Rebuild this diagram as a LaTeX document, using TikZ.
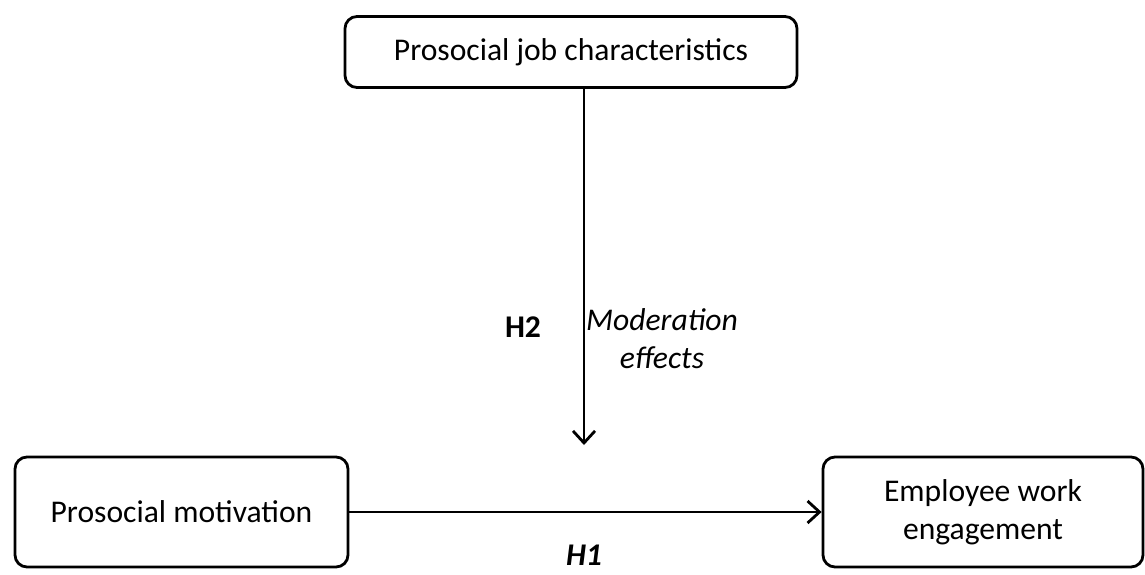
\documentclass[tikz,border=0pt]{standalone}
\usepackage{fontspec}
\setmainfont{Carlito}
\usetikzlibrary{arrows.meta, positioning}
\tikzstyle{every node}=[font=\fontsize{15.8}{19}\selectfont]

\begin{document}
\begin{tikzpicture}[
        x=0.5pt, y=-0.5pt,
        varbox/.style={draw, line width=1.4pt, rounded corners=6pt, align=center, inner sep=0pt},
        link/.style={line width=1.4pt, -{Straight Barb[length=6pt, width=11pt, line width=1.4pt]}},
        hyp/.style={font=\fontsize{15.8}{19}\selectfont\bfseries}
    ]
    \useasboundingbox (0,0) rectangle (1145,574);

    % --- Nodes ---
    \node[varbox, minimum width=226pt, minimum height=35.5pt] (jobchar) at (571,52) {Prosocial job characteristics};
    \node[varbox, minimum width=166.5pt, minimum height=55pt] (motiv) at (181.5,512) {Prosocial motivation};
    \node[varbox, minimum width=160pt, minimum height=55pt] (engage) at (983,512) {Employee work\\engagement};
    \coordinate (modpt) at (584,445);

    % --- Connections & Labels ---
    \draw[link] (jobchar.south -| modpt) -- (modpt);
    \draw[link] (motiv.east) -- (engage.west);

    \node[hyp] (htwo) at (523,327) {H2};
    \node[align=center, font=\fontsize{15.8}{19}\selectfont\itshape] (moder) at (662,339) {Moderation\\effects};
    \node[hyp, inner sep=0pt, font=\fontsize{15.8}{19}\selectfont\bfseries\itshape] (hone) at (584,555) {H1};

\end{tikzpicture}
\end{document}
